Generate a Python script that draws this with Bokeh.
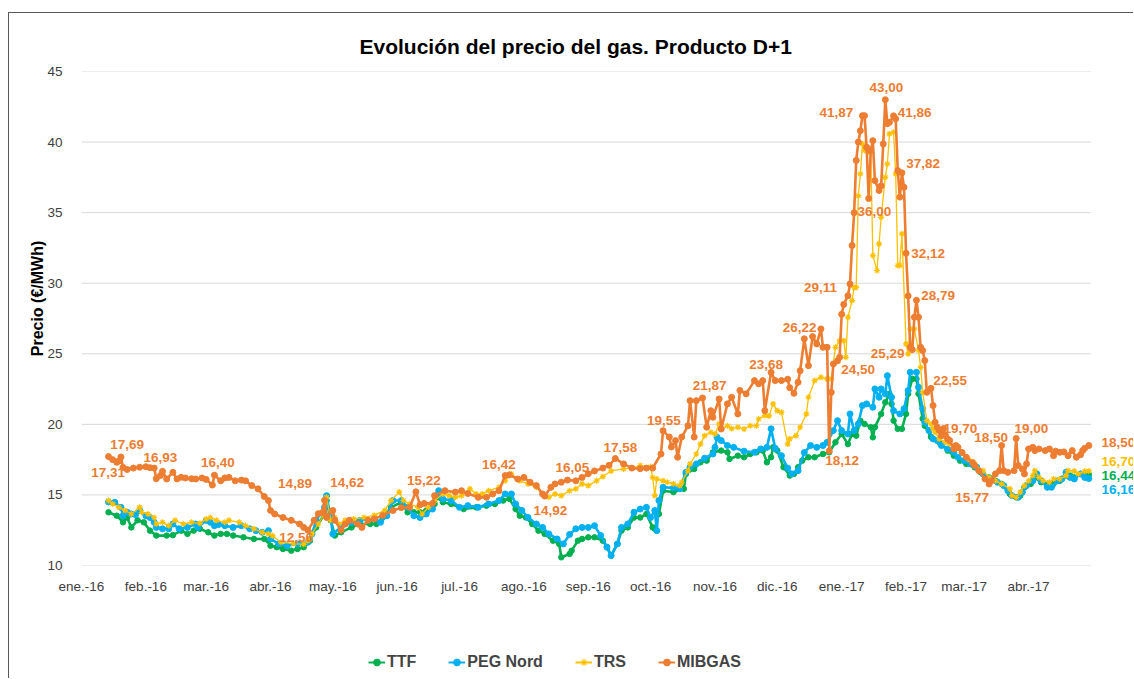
from bokeh.plotting import figure
from bokeh.layouts import column
from bokeh.models import (ColumnDataSource, FixedTicker, Label, LabelSet,
                          Legend, LegendItem)
from bokeh.core.properties import value
from bokeh.embed import file_html
from bokeh.resources import INLINE

# ---------------- data (x = days since 2016-01-01) ----------------
month_days = [0, 31, 60, 91, 121, 152, 182, 213, 244, 274, 305, 335, 366, 397, 425, 456]
month_labels = ["ene.-16", "feb.-16", "mar.-16", "abr.-16", "may.-16", "jun.-16",
                "jul.-16", "ago.-16", "sep.-16", "oct.-16", "nov.-16", "dic.-16",
                "ene.-17", "feb.-17", "mar.-17", "abr.-17"]
axis_end_day = 486          # 1 May 2017, end of the date axis
y_ticks = [10, 15, 20, 25, 30, 35, 40, 45]

mib_day = [13, 15, 17, 18, 19, 20, 22, 25, 28, 31, 33, 35, 36, 38, 39, 41, 44, 46, 48, 50,
           53, 55, 58, 60, 63, 64, 67, 69, 71, 74, 77, 79, 82, 85, 88, 90, 91, 93, 97, 101,
           105, 107, 109, 112, 114, 116, 117, 118, 121, 122, 125, 127, 129, 133, 135, 138,
           141, 145, 150, 154, 158, 161, 163, 165, 169, 170, 175, 180, 183, 186, 191, 195,
           198, 201, 204, 206, 210, 213, 216, 219, 222, 223, 226, 228, 231, 234, 238, 241,
           244, 247, 251, 254, 257, 261, 265, 269, 272, 275, 279, 280, 283, 284, 286, 287,
           289, 292, 293, 295, 296, 299, 301, 303, 304, 307, 308, 311, 313, 316, 317, 320,
           324, 326, 328, 329, 332, 334, 337, 340, 341, 343, 345, 346, 348, 350, 352, 354,
           356, 357, 359, 360, 361, 362, 364, 365, 366, 367, 369, 370, 371, 372, 373, 374,
           375, 376, 377, 378, 379, 380, 381, 382, 384, 385, 386, 387, 388, 389, 391, 392,
           393, 394, 395, 396, 397, 398, 399, 400, 401, 402, 403, 404, 405, 406, 407, 409,
           410, 411, 412, 413, 414, 415, 416, 417, 418, 420, 421, 422, 424, 426, 429, 430,
           432, 435, 437, 438, 440, 442, 443, 444, 446, 449, 450, 451, 453, 454, 455, 456,
           458, 459, 461, 464, 466, 468, 469, 471, 473, 475, 477, 479, 481, 482, 483, 485]
mib_val = [17.72, 17.50, 17.31, 17.40, 17.69, 16.95, 16.80, 16.90, 16.96, 17.00, 16.93, 16.90,
           16.15, 16.37, 16.67, 16.13, 16.60, 16.13, 16.25, 16.20, 16.15, 16.13, 16.20, 16.10,
           15.70, 16.40, 16.00, 16.20, 16.24, 16.00, 16.05, 16.00, 15.66, 15.43, 14.89, 14.60,
           13.90, 13.65, 13.40, 13.20, 12.94, 12.70, 12.50, 13.20, 13.67, 13.75, 14.62, 13.40,
           13.90, 13.20, 12.50, 12.94, 13.20, 12.94, 12.70, 13.20, 13.30, 13.55, 13.90, 14.10,
           14.12, 15.22, 14.30, 14.40, 14.40, 14.95, 15.30, 15.20, 15.30, 15.10, 14.83, 14.83,
           15.07, 15.30, 16.37, 16.42, 16.13, 16.24, 15.90, 15.66, 15.07, 14.92, 15.54, 15.78,
           15.90, 16.05, 16.00, 16.24, 16.50, 16.70, 16.90, 17.10, 17.58, 17.20, 16.90, 16.86,
           16.90, 16.90, 17.90, 19.55, 19.10, 18.40, 18.85, 17.67, 19.10, 19.90, 21.68, 19.10,
           21.68, 21.87, 19.80, 20.97, 20.50, 21.80, 19.67, 21.45, 21.92, 20.74, 22.40, 22.16,
           23.10, 22.87, 23.10, 20.97, 23.68, 23.10, 23.10, 23.20, 22.60, 22.20, 22.98, 23.80,
           26.06, 24.16, 26.22, 25.70, 26.76, 25.46, 25.46, 18.12, 22.27, 24.28, 24.50, 24.75,
           27.80, 28.50, 29.11, 29.95, 32.67, 35.00, 38.70, 40.00, 40.80, 41.87, 41.87, 39.64,
           36.00, 39.40, 40.10, 37.27, 36.57, 36.90, 39.87, 43.00, 41.30, 41.40, 41.86, 41.65,
           37.98, 36.10, 37.82, 36.80, 32.12, 29.10, 25.46, 25.29, 27.59, 28.79, 27.59, 25.46,
           25.23, 24.52, 22.27, 22.55, 21.33, 20.15, 19.80, 19.56, 19.20, 19.70, 19.20, 18.97,
           18.85, 18.26, 18.50, 18.37, 18.00, 17.67, 17.30, 17.08, 16.72, 16.13, 15.77, 16.00,
           16.49, 16.72, 18.50, 16.72, 16.60, 16.72, 19.00, 17.08, 16.84, 16.49, 17.20, 18.26,
           18.37, 18.14, 18.26, 18.14, 18.26, 17.78, 18.10, 18.02, 18.05, 17.78, 18.14, 17.67,
           17.85, 18.14, 18.30, 18.50]

trs_day = [13, 15, 18, 21, 24, 28, 29, 32, 35, 36, 39, 42, 45, 49, 53, 57, 60, 62, 65, 69,
           71, 76, 79, 83, 87, 90, 92, 96, 102, 107, 109, 111, 114, 117, 118, 120, 122, 124,
           127, 131, 136, 141, 146, 149, 153, 155, 158, 162, 164, 167, 170, 174, 177, 180,
           183, 187, 190, 193, 196, 201, 204, 207, 211, 215, 219, 223, 225, 228, 231, 235,
           238, 241, 244, 248, 251, 255, 261, 265, 269, 274, 275, 276, 277, 280, 282, 285,
           288, 289, 292, 293, 296, 298, 300, 303, 305, 307, 308, 311, 313, 316, 319, 322,
           325, 326, 329, 331, 333, 335, 337, 340, 341, 344, 346, 349, 350, 353, 356, 359,
           361, 363, 365, 367, 368, 369, 371, 372, 373, 374, 375, 376, 377, 379, 380, 381,
           383, 384, 385, 387, 388, 389, 391, 392, 393, 394, 395, 397, 398, 399, 401, 403,
           404, 405, 407, 409, 410, 411, 413, 416, 418, 421, 424, 427, 430, 434, 437, 440,
           443, 447, 448, 450, 452, 454, 456, 458, 459, 461, 463, 466, 468, 471, 474, 475,
           478, 480, 483, 485]
trs_val = [14.60, 14.36, 14.12, 13.90, 13.65, 14.12, 13.77, 13.65, 13.40, 12.94, 13.06, 12.82,
           13.20, 12.94, 13.06, 12.99, 13.30, 13.40, 13.20, 13.06, 13.20, 13.06, 12.82, 12.60,
           12.35, 12.24, 12.10, 11.65, 11.55, 11.50, 11.75, 12.24, 12.94, 13.65, 14.83, 13.20,
           13.40, 12.94, 13.20, 13.30, 13.40, 13.55, 13.90, 14.60, 15.20, 14.60, 14.36, 14.12,
           13.65, 14.12, 14.60, 15.07, 14.95, 14.83, 14.95, 15.43, 15.07, 15.07, 15.30, 15.54,
           16.00, 16.49, 16.00, 15.78, 15.54, 14.95, 14.83, 15.07, 14.95, 15.30, 15.43, 15.78,
           15.66, 16.00, 16.30, 16.70, 16.84, 16.90, 17.08, 17.00, 16.24, 14.95, 16.13, 16.00,
           15.90, 15.78, 15.66, 15.90, 16.72, 17.20, 17.90, 18.60, 19.20, 19.44, 19.32, 20.03,
           19.67, 19.90, 19.70, 19.80, 19.67, 19.90, 19.90, 20.38, 20.62, 20.60, 21.45, 20.97,
           20.85, 18.60, 18.97, 19.20, 19.80, 20.74, 21.92, 23.10, 23.33, 23.22, 23.22, 25.46,
           25.93, 25.93, 24.75, 27.59, 28.77, 29.70, 29.70, 36.20, 37.75, 39.87, 39.40, 39.30,
           39.40, 31.96, 30.90, 32.79, 34.67, 37.50, 38.46, 40.58, 40.70, 37.75, 31.25, 31.25,
           33.50, 25.70, 24.99, 26.76, 26.76, 25.23, 24.04, 22.27, 20.26, 20.03, 19.68, 19.44,
           18.97, 18.73, 18.60, 18.26, 18.02, 17.55, 17.20, 16.72, 16.24, 16.00, 15.78, 15.43,
           14.95, 14.83, 15.20, 15.66, 16.00, 16.37, 16.72, 16.24, 16.00, 15.90, 16.13, 16.13,
           16.37, 16.72, 16.70, 16.49, 16.67, 16.70]

peg_day = [13, 16, 19, 20, 22, 24, 26, 28, 31, 33, 35, 36, 39, 42, 44, 47, 51, 55, 56, 60,
           62, 64, 66, 69, 73, 77, 81, 84, 87, 90, 91, 95, 99, 104, 109, 111, 113, 117, 118,
           120, 121, 125, 130, 134, 141, 144, 147, 150, 154, 157, 160, 163, 166, 169, 171,
           172, 174, 178, 182, 186, 191, 196, 201, 204, 207, 209, 212, 215, 219, 222, 225,
           229, 232, 235, 238, 241, 244, 247, 250, 253, 255, 258, 260, 263, 266, 269, 272,
           274, 276, 277, 278, 280, 285, 288, 291, 293, 296, 300, 304, 305, 306, 308, 311,
           314, 319, 324, 327, 330, 332, 334, 337, 340, 342, 345, 348, 351, 354, 357, 359,
           362, 364, 366, 369, 370, 372, 374, 376, 378, 381, 382, 384, 385, 387, 388, 390,
           391, 394, 396, 398, 399, 402, 403, 405, 406, 408, 410, 412, 414, 417, 420, 422,
           425, 428, 431, 434, 438, 441, 444, 446, 448, 451, 453, 455, 458, 460, 462, 465,
           467, 470, 472, 474, 476, 478, 481, 483, 485]
peg_val = [14.50, 14.48, 14.12, 13.53, 13.77, 13.65, 13.60, 13.90, 13.53, 13.40, 13.06, 12.70,
           12.60, 12.60, 12.94, 12.60, 12.70, 12.94, 12.70, 13.20, 13.06, 12.82, 12.90, 12.82,
           12.70, 12.82, 12.60, 12.47, 12.35, 12.47, 11.88, 11.53, 11.40, 11.53, 11.65, 12.24,
           13.20, 14.12, 14.95, 13.40, 12.24, 12.70, 13.06, 13.20, 13.30, 13.06, 13.53, 14.60,
           14.60, 14.12, 13.53, 13.40, 13.65, 14.00, 14.95, 15.30, 14.72, 14.60, 14.12, 14.24,
           14.12, 14.36, 14.60, 15.07, 15.07, 14.36, 13.90, 13.40, 12.94, 12.70, 12.24, 11.88,
           11.53, 12.20, 12.60, 12.70, 12.70, 12.82, 12.12, 11.30, 10.70, 11.53, 12.70, 12.94,
           13.77, 14.00, 14.12, 13.40, 13.90, 12.47, 14.60, 15.54, 15.50, 15.43, 16.60, 16.96,
           17.20, 17.60, 17.90, 18.37, 19.08, 18.85, 18.50, 18.37, 18.10, 18.02, 18.26, 18.37,
           19.68, 18.30, 17.78, 16.90, 16.49, 16.72, 18.00, 18.50, 18.37, 18.50, 18.73, 19.56,
           20.26, 19.56, 19.32, 20.74, 19.56, 20.03, 21.33, 21.45, 21.21, 22.51, 21.92, 22.51,
           22.16, 23.45, 21.92, 20.97, 20.74, 21.10, 22.39, 23.69, 23.69, 22.63, 21.10, 20.15,
           19.56, 18.97, 18.85, 18.50, 18.26, 18.02, 17.67, 17.43, 17.20, 16.96, 16.49, 16.13,
           15.90, 15.66, 15.30, 14.95, 14.83, 15.20, 15.66, 16.00, 16.49, 16.00, 15.54, 15.54,
           16.00, 16.13, 16.60, 16.24, 16.13, 16.49, 16.24, 16.16]

ttf_day = [13, 17, 20, 22, 24, 27, 30, 33, 36, 41, 44, 48, 51, 54, 57, 61, 64, 67, 70, 73,
           78, 83, 88, 90, 91, 94, 97, 101, 104, 107, 110, 113, 117, 118, 120, 122, 125, 130,
           134, 139, 142, 145, 149, 154, 157, 160, 163, 166, 170, 171, 174, 178, 184, 190,
           195, 199, 203, 206, 209, 211, 214, 217, 220, 223, 227, 230, 231, 235, 236, 239,
           241, 244, 247, 251, 253, 255, 258, 260, 263, 266, 269, 272, 275, 276, 278, 280,
           285, 290, 291, 295, 298, 301, 304, 308, 311, 312, 316, 319, 322, 325, 328, 330,
           332, 333, 335, 338, 341, 343, 345, 347, 350, 353, 357, 360, 363, 366, 369, 371,
           373, 375, 377, 380, 381, 382, 385, 387, 389, 390, 391, 393, 395, 397, 398, 400,
           402, 403, 405, 406, 409, 413, 417, 420, 423, 426, 430, 433, 437, 440, 443, 447,
           450, 452, 454, 457, 459, 462, 465, 468, 471, 474, 476, 478, 481, 483, 485]
ttf_val = [13.77, 13.53, 13.06, 13.40, 12.70, 13.20, 13.06, 12.47, 12.12, 12.12, 12.15, 12.47,
           12.24, 12.47, 12.60, 12.35, 12.12, 12.24, 12.24, 12.12, 12.00, 11.88, 11.88, 11.76,
           11.40, 11.30, 11.17, 11.05, 11.17, 11.30, 11.76, 12.70, 13.65, 14.60, 13.20, 12.12,
           12.35, 12.70, 12.94, 12.94, 12.94, 13.40, 14.12, 14.48, 13.77, 13.77, 13.77, 13.90,
           14.36, 14.83, 14.48, 14.36, 14.00, 14.12, 14.24, 14.36, 14.60, 14.72, 14.00, 13.53,
           13.40, 12.94, 12.47, 12.24, 11.76, 11.53, 10.58, 10.82, 11.05, 11.76, 11.88, 12.00,
           12.00, 11.76, 11.30, 10.70, 11.53, 12.47, 12.70, 13.40, 13.40, 13.65, 12.70, 12.60,
           13.65, 15.30, 15.20, 15.43, 16.49, 16.84, 17.31, 17.43, 18.02, 18.14, 18.02, 17.55,
           17.78, 17.67, 17.90, 18.02, 18.14, 17.31, 17.67, 18.37, 18.14, 16.96, 16.37, 16.49,
           16.96, 17.43, 17.67, 17.67, 17.90, 18.02, 18.73, 19.32, 18.60, 19.32, 19.20, 20.26,
           20.03, 19.80, 19.08, 19.80, 20.74, 21.56, 22.16, 21.45, 20.26, 19.68, 19.68, 20.74,
           22.16, 23.22, 23.22, 22.16, 20.40, 19.90, 19.10, 18.73, 18.14, 17.78, 17.43, 17.20,
           16.96, 16.60, 16.24, 16.00, 15.78, 15.07, 14.83, 14.95, 15.54, 15.78, 16.24, 15.90,
           15.78, 15.78, 16.00, 16.37, 16.37, 16.24, 16.49, 16.37, 16.44]

# value labels of the MIBGAS series (text and where it sits)
lab_text = ["17,31", "17,69", "16,93", "16,40", "14,89", "12,56", "14,62", "15,22",
            "16,42", "14,92", "16,05", "17,58", "19,55", "21,87", "23,68", "26,22",
            "18,12", "24,50", "29,11", "36,00", "41,87", "43,00", "41,86", "37,82",
            "32,12", "28,79", "25,29", "22,55", "19,70", "18,50", "19,00", "15,77"]
lab_x = [12.8, 22.0, 38.0, 65.7, 102.8, 103.3, 127.9, 164.8, 200.9, 225.8, 236.3, 259.5,
         280.4, 302.4, 329.6, 345.7, 366.2, 373.9, 355.8, 381.8, 363.4, 387.5, 401.1, 405.2,
         407.6, 412.4, 388.1, 418.2, 423.2, 438.0, 457.3, 428.8]
lab_y = [16.60, 18.56, 17.66, 17.31, 15.78, 11.95, 15.89, 16.01, 17.13, 13.89, 16.91, 18.37,
         20.27, 22.75, 24.21, 26.88, 17.41, 23.86, 29.71, 35.08, 42.12, 43.84, 42.12, 38.46,
         32.12, 29.12, 25.04, 23.10, 19.68, 19.04, 19.68, 14.81]

# last values, written to the right of the series
end_text = ["18,50", "16,70", "16,44", "16,16"]
end_x = 491.1
end_y = [18.73, 17.36, 16.37, 15.35]

series_names = ["TTF", "PEG Nord", "TRS", "MIBGAS"]

C_TTF, C_PEG, C_TRS, C_MIB = "#00B050", "#00B0F0", "#FFC000", "#ED7D31"
FONT = "Liberation Sans"
STYLES = [(C_TTF, "circle", 2.6, 5.5), (C_PEG, "circle", 2.6, 6),
          (C_TRS, "asterisk", 1.3, 6), (C_MIB, "circle", 2.6, 6)]

W = 1124
p = figure(width=W, height=597, x_range=(0, 506.5), y_range=(10, 45),
           output_backend="svg", toolbar_location=None,
           min_border_left=72, min_border_right=0, min_border_top=58, min_border_bottom=45)
p.outline_line_color = None
p.background_fill_color = "white"
p.border_fill_color = "white"

p.title.text = "Evolución del precio del gas. Producto D+1"
p.title.align = "left"
p.title.offset = 278
p.title.standoff = 27
p.title.text_font = FONT
p.title.text_font_style = "bold"
p.title.text_font_size = "21px"
p.title.text_color = "black"

p.xaxis.ticker = FixedTicker(ticks=month_days)
p.xaxis.major_label_overrides = {d: l for d, l in zip(month_days, month_labels)}
p.yaxis.ticker = FixedTicker(ticks=y_ticks)
for ax in (p.xaxis[0], p.yaxis[0]):
    ax.axis_line_color = None
    ax.major_tick_line_color = None
    ax.minor_tick_line_color = None
    ax.major_label_text_font = FONT
    ax.major_label_text_font_size = "13.5px"
    ax.major_label_text_color = "#404040"
p.xaxis.major_label_standoff = 7
p.yaxis.major_label_standoff = 13
p.yaxis.axis_label = "\u00a0" * 9 + "Precio (€/MWh)"
p.yaxis.axis_label_text_font = FONT
p.yaxis.axis_label_text_font_style = "bold"
p.yaxis.axis_label_text_font_size = "16px"
p.yaxis.axis_label_text_color = "black"
p.yaxis.axis_label_standoff = -2
p.xgrid.visible = False
p.ygrid.visible = False

# horizontal gridlines, only over the date axis
p.segment(x0=[0] * len(y_ticks), x1=[axis_end_day] * len(y_ticks), y0=y_ticks, y1=y_ticks,
          line_color="#d9d9d9", line_width=1)

for d, v, (c, mk, lw, ms) in zip([ttf_day, peg_day, trs_day, mib_day],
                                 [ttf_val, peg_val, trs_val, mib_val], STYLES):
    src = ColumnDataSource(dict(x=d, y=v))
    p.line("x", "y", source=src, line_color=c, line_width=lw)
    if mk == "asterisk":
        p.scatter("x", "y", source=src, marker=mk, size=ms, line_color=c, line_width=1.2)
    else:
        p.scatter("x", "y", source=src, marker=mk, size=ms, fill_color=c, line_color=c)

labs = ColumnDataSource(dict(x=lab_x, y=lab_y, t=lab_text))
p.add_layout(LabelSet(x="x", y="y", text="t", source=labs, text_align="center",
                      text_baseline="middle", text_color=C_MIB,
                      text_font=value(FONT), text_font_style="bold",
                      text_font_size="13.5px"))
for t, y, c in zip(end_text, end_y, [C_MIB, C_TRS, C_TTF, C_PEG]):
    p.add_layout(Label(x=end_x, y=y, text=t, text_align="left", text_baseline="middle",
                       text_color=c, text_font=FONT, text_font_style="bold",
                       text_font_size="13.5px"))

# legend strip under the chart
lg = figure(width=W, height=68, x_range=(0, 1), y_range=(0, 1), output_backend="svg",
            toolbar_location=None, min_border=0, x_axis_location=None, y_axis_location=None)
lg.grid.visible = False
lg.outline_line_color = None
nan = float("nan")
items = []
for n, (c, mk, lw, ms) in zip(series_names, STYLES):
    lr = lg.line(x=[nan], y=[nan], line_color=c, line_width=2)
    if mk == "asterisk":
        sr = lg.scatter(x=[nan], y=[nan], marker=mk, size=ms, line_color=c, line_width=1.2)
    else:
        sr = lg.scatter(x=[nan], y=[nan], marker=mk, size=ms, fill_color=c, line_color=c)
    items.append(LegendItem(label=n, renderers=[lr, sr]))
legend = Legend(items=items, orientation="horizontal", location=(287, 6))
legend.label_text_font = FONT
legend.label_text_font_style = "bold"
legend.label_text_font_size = "16px"
legend.glyph_width = 17
legend.glyph_height = 20
legend.label_standoff = 2
legend.spacing = 32
legend.padding = 0
legend.margin = 0
legend.border_line_color = None
legend.background_fill_alpha = 0
lg.add_layout(legend)

layout = column(p, lg, spacing=0,
                styles={"margin-left": "8px", "margin-top": "12px",
                        "border-left": "1px solid #595959",
                        "border-top": "1px solid #595959"})

open("out.html", "w").write(file_html(layout, INLINE))
